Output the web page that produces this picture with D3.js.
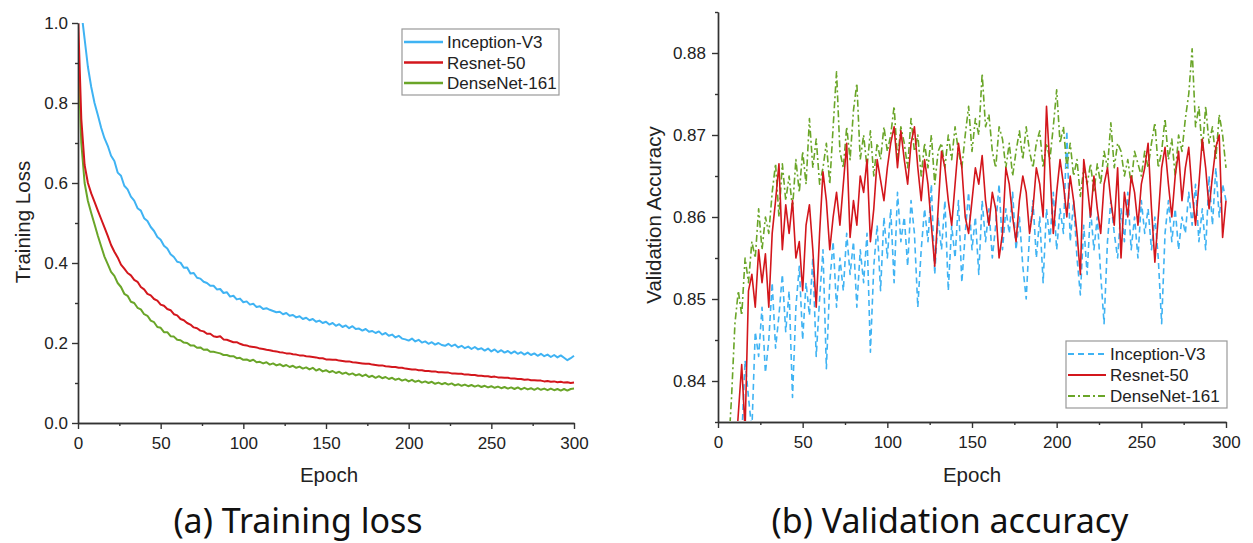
<!DOCTYPE html>
<html>
<head>
<meta charset="utf-8">
<script src="https://cdnjs.cloudflare.com/ajax/libs/d3/7.8.5/d3.min.js"></script>
<style>
  body { margin: 0; background: #fff; }
  text { font-family: "Liberation Sans", Arial, sans-serif; fill: #222; }
  .caption { font-family: "Noto Sans", sans-serif; fill: #111; }
  .axis path, .axis line { stroke: #333; stroke-width: 1.4; }
</style>
</head>
<body>
<div id="chart"></div>
<script>
// Series + tick data
const seriesNames = ["Inception-V3", "Resnet-50", "DenseNet-161"];
const seriesColors = ["#3fb3f3", "#d3161c", "#6aa528"];
const epochs = d3.range(0, 301, 2);

const epochTicks = [0, 50, 100, 150, 200, 250, 300];
const epochMinor = [25, 75, 125, 175, 225, 275];
const lossTicks = [0, 0.2, 0.4, 0.6, 0.8, 1.0];
const lossMinor = [0.1, 0.3, 0.5, 0.7, 0.9];
const accTicks = [0.84, 0.85, 0.86, 0.87, 0.88];
const accMinor = [0.835, 0.845, 0.855, 0.865, 0.875, 0.885];

// training loss, one value per 2 epochs
const inceptionLoss = [
  1.12, 1.03, 0.96, 0.89, 0.84, 0.80, 0.77, 0.738, 0.712, 0.693,
  0.668, 0.655, 0.626, 0.618, 0.593, 0.584, 0.566, 0.556, 0.537, 0.531,
  0.512, 0.505, 0.49, 0.48, 0.465, 0.458, 0.443, 0.436, 0.422, 0.415,
  0.403, 0.401, 0.388, 0.389, 0.374, 0.375, 0.363, 0.361, 0.353, 0.35,
  0.343, 0.343, 0.334, 0.335, 0.325, 0.327, 0.316, 0.318, 0.309, 0.311,
  0.302, 0.304, 0.296, 0.298, 0.29, 0.292, 0.285, 0.287, 0.283, 0.28,
  0.277, 0.278, 0.272, 0.275, 0.268, 0.27, 0.264, 0.267, 0.26, 0.263,
  0.257, 0.26, 0.253, 0.256, 0.25, 0.253, 0.246, 0.25, 0.243, 0.247,
  0.24, 0.244, 0.237, 0.242, 0.235, 0.236, 0.231, 0.235, 0.228, 0.23,
  0.225, 0.229, 0.221, 0.225, 0.218, 0.221, 0.214, 0.218, 0.211, 0.209,
  0.206, 0.211, 0.204, 0.208, 0.201, 0.204, 0.198, 0.202, 0.196, 0.2,
  0.195, 0.193, 0.198, 0.192, 0.196, 0.189, 0.193, 0.187, 0.191, 0.185,
  0.19, 0.184, 0.187, 0.181, 0.186, 0.179, 0.184, 0.177, 0.182, 0.176,
  0.18, 0.174, 0.179, 0.173, 0.177, 0.171, 0.176, 0.17, 0.174, 0.168,
  0.173, 0.167, 0.171, 0.165, 0.17, 0.164, 0.169, 0.163, 0.157, 0.162,
  0.168
];
const resnetLoss = [
  1.02, 0.76, 0.645, 0.6, 0.574, 0.553, 0.531, 0.51, 0.489, 0.468,
  0.445, 0.428, 0.414, 0.396, 0.386, 0.375, 0.369, 0.358, 0.353, 0.34,
  0.334, 0.323, 0.319, 0.31, 0.306, 0.296, 0.293, 0.285, 0.282, 0.272,
  0.269, 0.26, 0.257, 0.25, 0.246, 0.239, 0.237, 0.231, 0.229, 0.223,
  0.223, 0.217, 0.215, 0.217, 0.209, 0.208, 0.205, 0.202, 0.202, 0.198,
  0.195, 0.194, 0.191, 0.19, 0.189, 0.186, 0.185, 0.183, 0.182, 0.18,
  0.179, 0.177, 0.176, 0.174, 0.174, 0.172, 0.171, 0.169, 0.169, 0.167,
  0.166, 0.165, 0.164, 0.162, 0.162, 0.159, 0.159, 0.158, 0.158, 0.156,
  0.155, 0.154, 0.154, 0.152, 0.151, 0.15, 0.149, 0.148, 0.148, 0.146,
  0.145, 0.144, 0.144, 0.142, 0.141, 0.14, 0.14, 0.138, 0.138, 0.136,
  0.135, 0.134, 0.134, 0.132, 0.132, 0.13, 0.13, 0.129, 0.129, 0.127,
  0.127, 0.126, 0.126, 0.124, 0.124, 0.123, 0.123, 0.121, 0.121, 0.12,
  0.12, 0.118, 0.118, 0.117, 0.117, 0.115, 0.116, 0.114, 0.114, 0.113,
  0.113, 0.111, 0.111, 0.11, 0.11, 0.108, 0.109, 0.107, 0.107, 0.106,
  0.106, 0.104, 0.105, 0.103, 0.104, 0.102, 0.103, 0.101, 0.102, 0.1,
  0.101
];
const densenetLoss = [
  0.93, 0.7, 0.6, 0.555, 0.525, 0.497, 0.468, 0.442, 0.416, 0.397,
  0.378, 0.368, 0.35, 0.34, 0.323, 0.318, 0.303, 0.3, 0.288, 0.284,
  0.272, 0.268, 0.256, 0.252, 0.24, 0.238, 0.227, 0.227, 0.217, 0.216,
  0.208, 0.207, 0.201, 0.2, 0.194, 0.194, 0.188, 0.189, 0.183, 0.184,
  0.178, 0.178, 0.176, 0.174, 0.17, 0.17, 0.167, 0.167, 0.162, 0.163,
  0.158, 0.159, 0.155, 0.158, 0.152, 0.153, 0.149, 0.152, 0.146, 0.149,
  0.144, 0.147, 0.142, 0.145, 0.14, 0.143, 0.138, 0.141, 0.136, 0.139,
  0.134, 0.138, 0.131, 0.135, 0.129, 0.132, 0.127, 0.13, 0.125, 0.128,
  0.123, 0.126, 0.121, 0.124, 0.119, 0.122, 0.117, 0.121, 0.115, 0.118,
  0.113, 0.117, 0.112, 0.115, 0.11, 0.113, 0.108, 0.111, 0.106, 0.109,
  0.104, 0.108, 0.103, 0.106, 0.101, 0.104, 0.1, 0.103, 0.098, 0.101,
  0.097, 0.1, 0.096, 0.099, 0.094, 0.097, 0.093, 0.096, 0.092, 0.095,
  0.091, 0.094, 0.09, 0.093, 0.089, 0.092, 0.088, 0.091, 0.087, 0.09,
  0.086, 0.089, 0.085, 0.089, 0.084, 0.088, 0.084, 0.087, 0.083, 0.087,
  0.083, 0.086, 0.082, 0.086, 0.082, 0.085, 0.081, 0.085, 0.081, 0.085,
  0.086
];

// validation accuracy, one value per 2 epochs
const inceptionAcc = [
  0.80, 0.805, 0.81, 0.815, 0.82, 0.824, 0.828, 0.833, 0.8425, 0.838,
  0.834, 0.846, 0.843, 0.849, 0.841, 0.845, 0.852, 0.844, 0.848, 0.853,
  0.846, 0.851, 0.838, 0.849, 0.854, 0.845, 0.852, 0.848, 0.855, 0.843,
  0.85, 0.856, 0.8415, 0.852, 0.857, 0.849, 0.855, 0.851, 0.858, 0.853,
  0.857, 0.849, 0.856, 0.852, 0.858, 0.8435, 0.854, 0.859, 0.851, 0.86,
  0.855, 0.861, 0.852, 0.863, 0.857, 0.86, 0.854, 0.862, 0.858, 0.849,
  0.856, 0.861, 0.857, 0.864, 0.853, 0.86, 0.856, 0.862, 0.851, 0.859,
  0.855, 0.862, 0.852, 0.858, 0.863, 0.856, 0.86, 0.853, 0.862, 0.857,
  0.861, 0.855, 0.859, 0.864, 0.856, 0.861, 0.858, 0.863, 0.856, 0.86,
  0.854, 0.85, 0.858, 0.862, 0.855, 0.86, 0.852, 0.861, 0.857, 0.863,
  0.856, 0.861, 0.858, 0.8705, 0.857, 0.862, 0.855, 0.8505, 0.859, 0.853,
  0.861, 0.856, 0.86, 0.853, 0.847, 0.857, 0.862, 0.858, 0.855, 0.861,
  0.857, 0.863, 0.856, 0.86, 0.855, 0.862, 0.858, 0.861, 0.856, 0.86,
  0.855, 0.847, 0.858, 0.862, 0.857, 0.861, 0.856, 0.86, 0.858, 0.863,
  0.859, 0.864, 0.857, 0.861, 0.856, 0.865, 0.859, 0.866, 0.86, 0.864,
  0.862
];
const resnetAcc = [
  0.80, 0.805, 0.81, 0.815, 0.822, 0.83, 0.836, 0.842, 0.834, 0.851,
  0.853, 0.849, 0.856, 0.852, 0.8555, 0.849, 0.858, 0.862, 0.8665, 0.856,
  0.8615, 0.858, 0.862, 0.855, 0.857, 0.851, 0.859, 0.8615, 0.856, 0.849,
  0.858, 0.8655, 0.862, 0.856, 0.86, 0.863, 0.859, 0.864, 0.869, 0.8575,
  0.862, 0.859, 0.865, 0.863, 0.867, 0.857, 0.861, 0.867, 0.8645, 0.862,
  0.866, 0.869, 0.871, 0.866, 0.8705, 0.867, 0.864, 0.869, 0.871, 0.866,
  0.862, 0.867, 0.864, 0.859, 0.854, 0.861, 0.868, 0.866, 0.862, 0.859,
  0.864, 0.869, 0.866, 0.86, 0.858, 0.862, 0.866, 0.864, 0.8675, 0.862,
  0.859, 0.863, 0.861, 0.855, 0.858, 0.866, 0.864, 0.86, 0.857, 0.862,
  0.865, 0.863, 0.858, 0.861, 0.866, 0.864, 0.86, 0.8735, 0.866, 0.858,
  0.863, 0.867, 0.864, 0.86, 0.865, 0.862, 0.858, 0.853, 0.867, 0.864,
  0.86, 0.865, 0.861, 0.858, 0.864, 0.866, 0.862, 0.859, 0.866, 0.855,
  0.863, 0.86, 0.865, 0.863, 0.859, 0.864, 0.866, 0.869, 0.861, 0.8545,
  0.86, 0.866, 0.8685, 0.864, 0.86, 0.865, 0.868, 0.862, 0.866, 0.8685,
  0.863, 0.859, 0.864, 0.8695, 0.866, 0.861, 0.865, 0.8685, 0.87, 0.8575,
  0.862
];
const densenetAcc = [
  0.80, 0.81, 0.82, 0.831, 0.838, 0.847, 0.851, 0.848, 0.855, 0.852,
  0.857, 0.855, 0.861, 0.856, 0.86, 0.858, 0.863, 0.8665, 0.86, 0.8665,
  0.862, 0.865, 0.861, 0.867, 0.863, 0.868, 0.864, 0.872, 0.866, 0.8695,
  0.864, 0.866, 0.869, 0.864, 0.871, 0.8777, 0.868, 0.866, 0.871, 0.867,
  0.873, 0.8763, 0.867, 0.87, 0.866, 0.8705, 0.865, 0.869, 0.867, 0.871,
  0.868, 0.87, 0.8735, 0.867, 0.871, 0.869, 0.866, 0.872, 0.868, 0.87,
  0.865, 0.869, 0.866, 0.87, 0.864, 0.868, 0.869, 0.866, 0.87, 0.867,
  0.871, 0.868, 0.866, 0.87, 0.8735, 0.868, 0.872, 0.87, 0.8775, 0.871,
  0.8725, 0.868, 0.866, 0.871, 0.8695, 0.866, 0.869, 0.865, 0.868, 0.8705,
  0.867, 0.871, 0.868, 0.866, 0.869, 0.8705, 0.866, 0.869, 0.867, 0.871,
  0.8755, 0.869, 0.871, 0.866, 0.869, 0.865, 0.867, 0.8625, 0.866, 0.864,
  0.8665, 0.863, 0.8665, 0.864, 0.868, 0.866, 0.8715, 0.866, 0.869, 0.868,
  0.865, 0.867, 0.864, 0.868, 0.8665, 0.865, 0.868, 0.866, 0.869, 0.8715,
  0.866, 0.868, 0.872, 0.867, 0.8695, 0.865, 0.87, 0.868, 0.872, 0.875,
  0.8805, 0.871, 0.8735, 0.868, 0.8735, 0.869, 0.871, 0.867, 0.8725, 0.87,
  0.866
];

const WIDTH = 1253, HEIGHT = 543;

const svg = d3.select("#chart").append("svg")
  .attr("width", WIDTH)
  .attr("height", HEIGHT);

svg.append("rect").attr("width", WIDTH).attr("height", HEIGHT).attr("fill", "#fff");

// pixel boxes of each plot area
const PANEL_A = { LEFT: 78, RIGHT: 574, TOP: 23, BOTTOM: 423 };
const PANEL_B = { LEFT: 718, RIGHT: 1226, TOP: 12, BOTTOM: 422 };

// Scales
const xA = d3.scaleLinear().domain([0, 300]).range([PANEL_A.LEFT, PANEL_A.RIGHT]);
const yA = d3.scaleLinear().domain([0, 1]).range([PANEL_A.BOTTOM, PANEL_A.TOP]);
const xB = d3.scaleLinear().domain([0, 300]).range([PANEL_B.LEFT, PANEL_B.RIGHT]);
const yB = d3.scaleLinear().domain([0.835, 0.885]).range([PANEL_B.BOTTOM, PANEL_B.TOP]);

function drawAxes(x, y, P, yTicks, yMinor, yFmt, yPad) {
  // minor ticks first
  svg.append("g").attr("class", "axis")
    .attr("transform", `translate(0, ${P.BOTTOM})`)
    .call(d3.axisBottom(x).tickValues(epochMinor).tickSize(3).tickSizeOuter(0).tickFormat(""));
  svg.append("g").attr("class", "axis")
    .attr("transform", `translate(${P.LEFT}, 0)`)
    .call(d3.axisLeft(y).tickValues(yMinor).tickSize(3).tickSizeOuter(0).tickFormat(""));

  const xg = svg.append("g").attr("class", "axis")
    .attr("transform", `translate(0, ${P.BOTTOM})`)
    .call(d3.axisBottom(x).tickValues(epochTicks).tickSize(6).tickPadding(8).tickSizeOuter(0));
  const yg = svg.append("g").attr("class", "axis")
    .attr("transform", `translate(${P.LEFT}, 0)`)
    .call(d3.axisLeft(y).tickValues(yTicks).tickSize(6).tickPadding(yPad).tickSizeOuter(0).tickFormat(yFmt));
  xg.selectAll("text").attr("font-size", "17px");
  yg.selectAll("text").attr("font-size", "17px");
}

drawAxes(xA, yA, PANEL_A, lossTicks, lossMinor, d3.format(".1f"), 4);
drawAxes(xB, yB, PANEL_B, accTicks, accMinor, d3.format(".2f"), 6);

// clip areas
const defs = svg.append("defs");
[["clipA", PANEL_A], ["clipB", PANEL_B]].forEach(([id, P]) => {
  defs.append("clipPath").attr("id", id).append("rect")
    .attr("x", P.LEFT + 1).attr("y", P.TOP)
    .attr("width", P.RIGHT - P.LEFT + 2).attr("height", P.BOTTOM - P.TOP - 1);
});

// Lines
const lossSeries = [inceptionLoss, resnetLoss, densenetLoss];
const accSeries = [inceptionAcc, resnetAcc, densenetAcc];
const dashes = ["6,4", null, "7,3,2,3"];

const lineA = d3.line().x((d, i) => xA(epochs[i])).y(d => yA(d));
const lineB = d3.line().x((d, i) => xB(epochs[i])).y(d => yB(d));

svg.append("g").attr("clip-path", "url(#clipA)")
  .selectAll("path")
  .data([2, 1, 0])
  .enter().append("path")
  .attr("d", k => lineA(lossSeries[k]))
  .attr("fill", "none")
  .attr("stroke", k => seriesColors[k])
  .attr("stroke-width", 2)
  .attr("stroke-linejoin", "round");

svg.append("g").attr("clip-path", "url(#clipB)")
  .selectAll("path")
  .data([0, 2, 1])
  .enter().append("path")
  .attr("d", k => lineB(accSeries[k]))
  .attr("fill", "none")
  .attr("stroke", k => seriesColors[k])
  .attr("stroke-width", 1.6)
  .attr("stroke-dasharray", k => dashes[k])
  .attr("stroke-linejoin", "round");

// Legends
function legend(x0, y0, w, h, rowH, lineLen, useDash) {
  const g = svg.append("g").attr("transform", `translate(${x0}, ${y0})`);
  g.append("rect").attr("width", w).attr("height", h)
    .attr("fill", "#fff").attr("stroke", "#999").attr("stroke-width", 1.2);
  seriesNames.forEach((name, i) => {
    const cy = 13 + i * rowH;
    g.append("line")
      .attr("x1", 2).attr("x2", 2 + lineLen)
      .attr("y1", cy).attr("y2", cy)
      .attr("stroke", seriesColors[i])
      .attr("stroke-width", useDash ? 1.8 : 2.4)
      .attr("stroke-dasharray", useDash ? dashes[i] : null);
    g.append("text")
      .attr("x", lineLen + 6).attr("y", cy)
      .attr("dy", "0.36em")
      .attr("font-size", "17px")
      .text(name);
  });
}
legend(402, 29, 157, 66, 20.5, 39, false);
legend(1066, 341, 161, 67, 21, 38, true);

// Axis titles
svg.append("text")
  .attr("x", (PANEL_A.LEFT + PANEL_A.RIGHT) / 2 + 3).attr("y", 482)
  .attr("text-anchor", "middle").attr("font-size", "20.5px")
  .text("Epoch");
svg.append("text")
  .attr("x", (PANEL_B.LEFT + PANEL_B.RIGHT) / 2).attr("y", 482)
  .attr("text-anchor", "middle").attr("font-size", "20.5px")
  .text("Epoch");
svg.append("text")
  .attr("transform", "translate(30, 222) rotate(-90)")
  .attr("text-anchor", "middle").attr("font-size", "20.5px")
  .text("Training Loss");
svg.append("text")
  .attr("transform", "translate(661, 215) rotate(-90)")
  .attr("text-anchor", "middle").attr("font-size", "20.5px")
  .text("Validation Accuracy");

// Captions
svg.append("text").attr("class", "caption")
  .attr("x", 298).attr("y", 533)
  .attr("text-anchor", "middle").attr("font-size", "34px")
  .text("(a) Training loss");
svg.append("text").attr("class", "caption")
  .attr("x", 950).attr("y", 533)
  .attr("text-anchor", "middle").attr("font-size", "34px")
  .text("(b) Validation accuracy");
</script>
</body>
</html>
